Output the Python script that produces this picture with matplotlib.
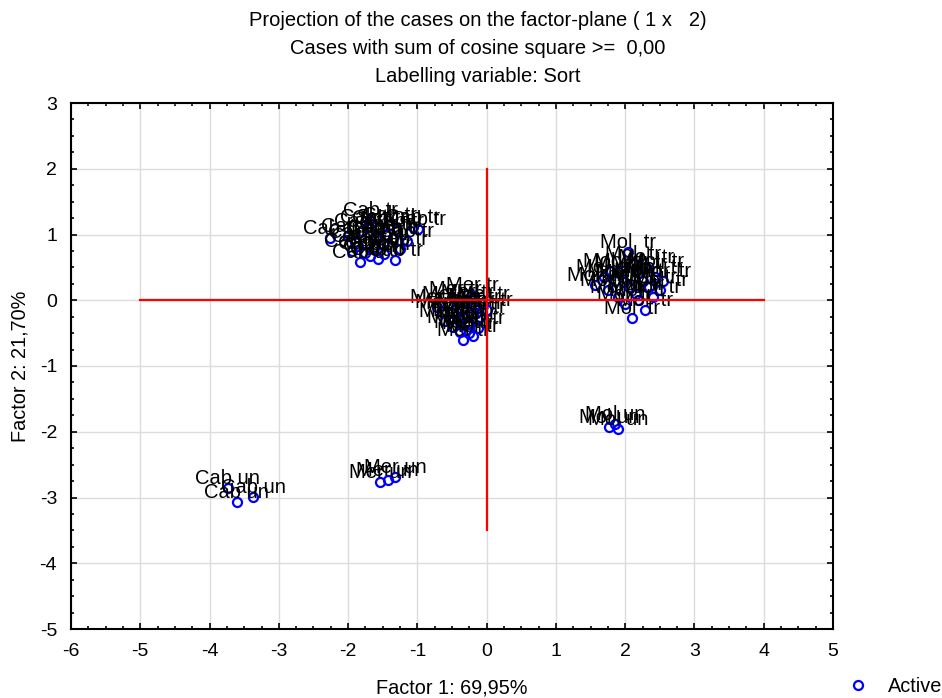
import matplotlib
matplotlib.use("Agg")
import matplotlib.pyplot as plt
from matplotlib.ticker import MultipleLocator

plt.rcParams['font.family'] = ['Liberation Sans', 'DejaVu Sans']
plt.rcParams['axes.unicode_minus'] = False

# Factor coordinates of the cases, grouped by sort
cab_tr_x = [-2.26, -0.99, -1.83, -1.57, -1.32, -1.68, -1.75, -1.62, -1.50, -1.90, -2.00, -1.45, -1.68,
            -1.07, -1.80, -1.55, -1.35, -1.25, -1.95, -1.60, -1.40, -1.72, -1.48, -1.85, -1.30, -1.15]
cab_tr_y = [0.95, 1.08, 0.58, 0.63, 0.61, 0.68, 0.72, 0.80, 0.85, 0.88, 0.98, 1.00, 1.22,
            1.12, 1.05, 1.10, 0.95, 0.78, 0.75, 0.95, 1.15, 1.12, 0.70, 0.82, 1.05, 0.90]

mer_tr_x = [-0.21, -0.72, -0.12, -0.34, -0.30, -0.25, -0.40, -0.50, -0.55, -0.35, -0.15, -0.05,
            -0.45, -0.28, -0.60, -0.20, -0.10, 0.00, -0.38, -0.48, -0.32, -0.18, -0.65, -0.26]
mer_tr_y = [0.08, -0.10, -0.42, -0.61, -0.45, -0.35, -0.30, -0.20, -0.05, -0.15, -0.20, -0.05,
            0.02, -0.02, -0.32, -0.55, -0.25, -0.15, -0.48, -0.40, -0.25, -0.10, -0.18, -0.50]

mol_tr_x = [2.04, 2.10, 1.57, 2.43, 1.75, 1.85, 1.95, 2.05, 2.15, 2.25, 2.35, 2.30, 2.20,
            1.90, 2.00, 2.40, 2.55, 1.70, 2.12, 2.28, 1.98, 2.50, 2.18, 1.80, 2.45]
mol_tr_y = [0.73, -0.27, 0.23, 0.35, 0.15, 0.30, 0.45, 0.20, 0.10, 0.30, 0.20, 0.50, 0.42,
            0.05, -0.05, 0.05, 0.30, 0.35, 0.55, -0.15, 0.28, 0.15, 0.00, 0.45, 0.45]

cab_un_x = [-3.74, -3.61, -3.37]
cab_un_y = [-2.86, -3.07, -2.99]

mer_un_x = [-1.54, -1.43, -1.32]
mer_un_y = [-2.76, -2.73, -2.69]

mol_un_x = [1.77, 1.90, 1.86]
mol_un_y = [-1.93, -1.96, -1.88]

groups = [
    ("Cab tr", cab_tr_x, cab_tr_y),
    ("Mer tr", mer_tr_x, mer_tr_y),
    ("Mol  tr", mol_tr_x, mol_tr_y),
    ("Cab un", cab_un_x, cab_un_y),
    ("Mer un", mer_un_x, mer_un_y),
    ("Mol un", mol_un_x, mol_un_y),
]

fig = plt.figure(figsize=(9.42, 6.98), dpi=100)
ax = fig.add_axes([71 / 942, 1 - 629 / 698, 762 / 942, 526 / 698])

all_x = [v for _, xs, _ in groups for v in xs]
all_y = [v for _, _, ys in groups for v in ys]
pts, = ax.plot(all_x, all_y, linestyle='none', marker='o', ms=6.5, mfc='none',
               mec='#0000ff', mew=1.6, zorder=3, label='Active')

for name, xs, ys in groups:
    for x, y in zip(xs, ys):
        ax.annotate(name, (x, y), xytext=(0, 0), textcoords='offset points',
                    ha='center', va='bottom', fontsize=14.5, color='black', zorder=4)

# Axes through the origin
ax.plot([-5, 4], [0, 0], color='red', lw=1.6, zorder=5)
ax.plot([0, 0], [-3.5, 2], color='red', lw=1.6, zorder=5)

ax.set_xlim(-6, 5)
ax.set_ylim(-5, 3)
ax.xaxis.set_major_locator(MultipleLocator(1))
ax.yaxis.set_major_locator(MultipleLocator(1))
ax.xaxis.set_minor_locator(MultipleLocator(0.25))
ax.yaxis.set_minor_locator(MultipleLocator(0.25))
ax.tick_params(which='both', direction='in', top=True, right=True, width=1.2, color='black')
ax.tick_params(which='major', length=4, labelsize=14, pad=10)
ax.tick_params(which='minor', length=2.5)
ax.grid(True, which='major', color='#dcdcdc', lw=1, zorder=0)
ax.set_axisbelow(True)
for sp in ax.spines.values():
    sp.set_linewidth(1.5)

ax.set_xlabel("Factor 1: 69,95%", fontsize=14.3)
ax.xaxis.set_label_coords(0.5, (629 - 688) / 526)
ax.xaxis.label.set_va('center')
ax.set_ylabel("Factor 2: 21,70%", fontsize=14.3)
ax.yaxis.set_label_coords((20 - 71) / 762, 0.5)
ax.yaxis.label.set_va('center')

fig.text(478 / 942, 1 - 20 / 698, "Projection of the cases on the factor-plane ( 1 x   2)",
         ha='center', va='center', fontsize=14.5)
fig.text(478 / 942, 1 - 48 / 698, "Cases with sum of cosine square >=  0,00",
         ha='center', va='center', fontsize=14.5)
fig.text(478 / 942, 1 - 76 / 698, "Labelling variable: Sort",
         ha='center', va='center', fontsize=14.5)

fig.legend(handles=[pts], loc='center left', bbox_to_anchor=(842 / 942, 1 - 686 / 698),
           frameon=False, fontsize=14.3, handlelength=1.2, handletextpad=0.9,
           borderaxespad=0, borderpad=0.2)

fig.savefig("out.png", dpi=100)
